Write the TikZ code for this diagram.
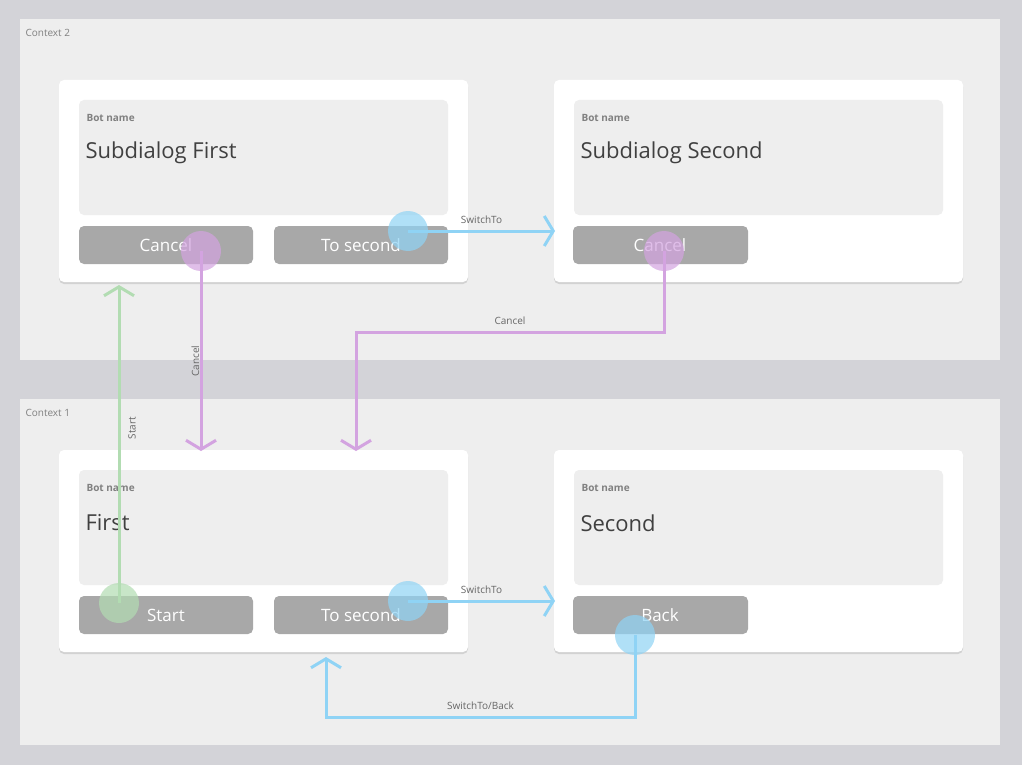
\documentclass[tikz,border=0pt]{standalone}
\usepackage{fontspec}
\setmainfont{Open Sans}
\usetikzlibrary{arrows.meta,shadows}
\definecolor{bg}{HTML}{D3D3D8}
\definecolor{panel}{HTML}{EEEEEE}
\definecolor{btn}{HTML}{A8A8A8}
\definecolor{cblue}{HTML}{8FD3F5}
\definecolor{cpurp}{HTML}{D3A3E0}
\definecolor{cgreen}{HTML}{B2DCB2}
\begin{document}
\begin{tikzpicture}[x=1pt,y=-1pt,
  card/.style={fill=white,rounded corners=5pt,drop shadow={shadow xshift=0pt,shadow yshift=-2pt,opacity=0.25}},
  inner/.style={fill=panel,rounded corners=5pt},
  btnr/.style={fill=btn,rounded corners=5pt},
  btxt/.style={text=white,font=\fontsize{17}{20}\selectfont},
  bname/.style={anchor=west,text=black!50,font=\bfseries\fontsize{10}{12}\selectfont},
  title/.style={anchor=west,text=black!75,font=\fontsize{22}{26}\selectfont},
  ctx/.style={anchor=west,text=black!50,font=\fontsize{10}{12}\selectfont},
  lbl/.style={text=black!60,font=\fontsize{10}{12}\selectfont},
  dot/.style={circle,minimum size=40pt,inner sep=0pt,fill opacity=0.7},
  conn/.style={line width=3pt,-{Straight Barb[length=9pt,width=30pt,line width=3pt]}},
  link/.style={line width=3pt}]
\fill[bg] (0,0) rectangle (1022,765);
\useasboundingbox (0,0) rectangle (1022,765);
\fill[panel] (20,19) rectangle (1000,360);
\fill[panel] (20,399) rectangle (1000,745);
\node[ctx] (c2) at (22,33) {Context 2};
\node[ctx] (c1) at (22,413) {Context 1};
% cards
\foreach \x/\y in {59/80,554/80,59/450,554/450}{
  \fill[card] (\x,\y) rectangle ++(409,202);
  \fill[inner] (\x+20,\y+20) rectangle ++(369,115);
  \node[bname] at (\x+24,\y+38) {Bot name};
}
\node[title] (t1) at (82,153) {Subdialog First};
\node[title] (t2) at (577,153) {Subdialog Second};
\node[title] (t3) at (82,523) {First};
\node[title] (t4) at (577,523) {Second};
% buttons
\fill[btnr] (79,226) rectangle (253,264); \node[btxt] (b1) at (166,245) {Cancel};
\fill[btnr] (274,226) rectangle (448,264); \node[btxt] (b2) at (361,245) {To second};
\fill[btnr] (573,226) rectangle (748,264); \node[btxt] (b3) at (660,245) {Cancel};
\fill[btnr] (79,596) rectangle (253,634); \node[btxt] (b4) at (166,615) {Start};
\fill[btnr] (274,596) rectangle (448,634); \node[btxt] (b5) at (361,615) {To second};
\fill[btnr] (573,596) rectangle (748,634); \node[btxt] (b6) at (660,615) {Back};
% dots
\node[dot,fill=cblue] (d1) at (408,231) {};
\node[dot,fill=cpurp] (d2) at (201,251) {};
\node[dot,fill=cpurp] (d3) at (664,251) {};
\node[dot,fill=cblue] (d4) at (408,601) {};
\node[dot,fill=cgreen] (d5) at (119,603) {};
\node[dot,fill=cblue] (d6) at (635,635) {};
\coordinate (e1) at (555,231);
\coordinate (e2) at (201,451);
\coordinate (e3) at (356,451);
\coordinate (e4) at (555,601);
\coordinate (e5) at (119,285);
\coordinate (e6) at (326,657);
% connectors
\draw[conn,cblue] (d1.center) -- (e1) node[midway,above=3pt,lbl] {SwitchTo};
\draw[conn,cblue] (d4.center) -- (e4) node[midway,above=3pt,lbl] {SwitchTo};
\draw[conn,cpurp] (d2.center) -- (e2) node[pos=0.55,right=3pt,lbl,rotate=90,anchor=south] {Cancel};
\draw[conn,cpurp] (d3.center) |- (356,332) node[pos=0.75,above=3pt,lbl] {Cancel} -- (e3);
\draw[conn,cgreen] (d5.center) -- (e5) node[pos=0.55,lbl,rotate=90,anchor=north,xshift=0pt] at (132,428) {};
\node[lbl,rotate=90] (ls) at (132,428) {Start};
\draw[conn,cblue] (d6.center) |- (326,717) node[pos=0.75,above=3pt,lbl] {SwitchTo/Back} -- (e6);
\end{tikzpicture}
\end{document}
